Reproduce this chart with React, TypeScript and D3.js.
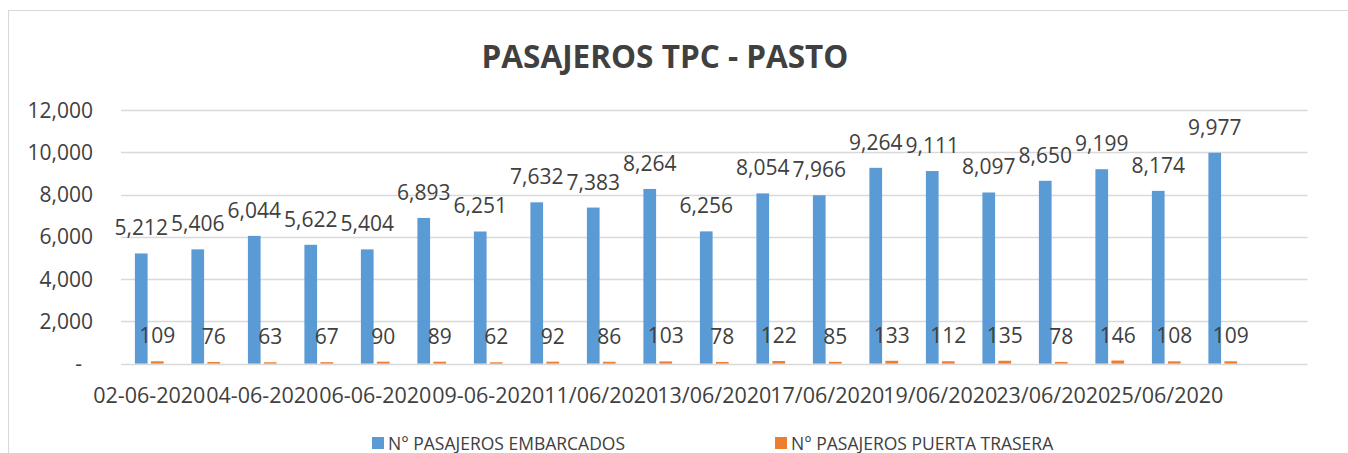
import React from "react";
import * as d3 from "d3";

// fechas (solo se rotula una de cada dos, como en Excel)
const categories = [
  "02-06-2020", "03-06-2020", "04-06-2020", "05-06-2020", "06-06-2020",
  "08-06-2020", "09-06-2020", "10-06-2020", "11/06/2020", "12/06/2020",
  "13/06/2020", "16/06/2020", "17/06/2020", "18/06/2020", "19/06/2020",
  "20/06/2020", "23/06/2020", "24/06/2020", "25/06/2020", "26/06/2020", "",
];
const embarcados = [
  5212, 5406, 6044, 5622, 5404, 6893, 6251, 7632, 7383, 8264,
  6256, 8054, 7966, 9264, 9111, 8097, 8650, 9199, 8174, 9977,
];
const puertaTrasera = [
  109, 76, 63, 67, 90, 89, 62, 92, 86, 103,
  78, 122, 85, 133, 112, 135, 78, 146, 108, 109,
];
const yTicks = [0, 2000, 4000, 6000, 8000, 10000, 12000];
const seriesNames = ["N° PASAJEROS EMBARCADOS", "N° PASAJEROS PUERTA TRASERA"];
const colors = ["#5B9BD5", "#ED7D31"];

const W = 1348;
const H = 453;
const FONT = "'Open Sans', 'Noto Sans', sans-serif";
const TEXT = "#404040";

const App = () => {
  const x = d3.scaleBand<string>().domain(categories).range([121, 1307.5]);
  const inner = d3
    .scaleBand<number>()
    .domain([0, 1])
    .range([0, x.bandwidth()])
    .paddingInner(0.206)
    .paddingOuter(0.868);
  const y = d3.scaleLinear().domain([0, 12000]).range([363.6, 110]);
  const fmt = d3.format(",");

  const series = [embarcados, puertaTrasera];

  return (
    <svg
      width={W}
      height={H}
      style={{ position: "absolute", left: 0, top: 0, background: "#fff" }}
      fontFamily={FONT}
    >
      {/* chart area border */}
      <rect x={8.5} y={10.5} width={1345} height={460} fill="#fff" stroke="#D9D9D9" />

      <text x={665} y={68} textAnchor="middle" fontSize={31.5} fontWeight="bold" fill={TEXT}>
        PASAJEROS TPC - PASTO
      </text>

      {/* gridlines + y labels */}
      {yTicks.map((t) => (
        <g key={t}>
          <line
            x1={121}
            x2={1307.5}
            y1={Math.round(y(t)) + 0.5}
            y2={Math.round(y(t)) + 0.5}
            stroke="#D9D9D9"
            strokeWidth={1.5}
          />
          <text
            x={t === 0 ? 82 : 93}
            y={y(t)}
            dy="0.36em"
            textAnchor="end"
            fontSize={21}
            fill={TEXT}
          >
            {t === 0 ? "-" : fmt(t)}
          </text>
        </g>
      ))}

      {/* bars */}
      {series.map((vals, s) =>
        vals.map((v, i) => {
          const bx = (x(categories[i]) ?? 0) + (inner(s) ?? 0);
          return (
            <rect
              key={`b${s}-${i}`}
              x={bx}
              y={y(v)}
              width={inner.bandwidth()}
              height={y(0) - y(v)}
              fill={colors[s]}
            />
          );
        })
      )}

      {/* data labels */}
      {series.map((vals, s) =>
        vals.map((v, i) => {
          const cx = (x(categories[i]) ?? 0) + (inner(s) ?? 0) + inner.bandwidth() / 2;
          return (
            <text
              key={`l${s}-${i}`}
              x={cx}
              y={y(v) - 18}
              textAnchor="middle"
              fontSize={21}
              fill={TEXT}
            >
              {fmt(v)}
            </text>
          );
        })
      )}

      {/* x labels, every other category */}
      {categories.map((c, i) =>
        i % 2 === 0 && c ? (
          <text
            key={`x${i}`}
            x={(x(c) ?? 0) + x.bandwidth() / 2}
            y={403}
            textAnchor="middle"
            fontSize={21.5}
            fill={TEXT}
          >
            {c}
          </text>
        ) : null
      )}

      {/* legend */}
      {seriesNames.map((n, s) => {
        const lx = s === 0 ? 372 : 775;
        return (
          <g key={n}>
            <rect x={lx} y={437} width={12} height={12} fill={colors[s]} />
            <text x={lx + 16} y={449.5} fontSize={17.5} fill={TEXT}>
              {n}
            </text>
          </g>
        );
      })}
    </svg>
  );
};

export default App;
